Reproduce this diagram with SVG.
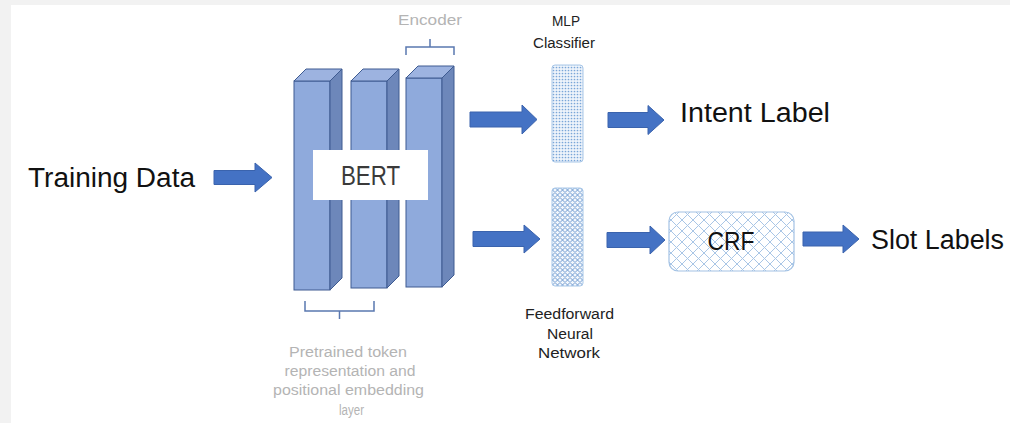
<svg xmlns="http://www.w3.org/2000/svg" width="1010" height="423" viewBox="0 0 1010 423">
  <style>
    .lbl { font-family: "Liberation Sans", Arial, sans-serif; fill: #111; }
    .big { font-size: 27px; }
    .note { font-size: 14px; fill: #222; }
    .grey { font-size: 14px; fill: #b4b4b4; }
    .front { fill: #8faadc; stroke: #3e5b91; stroke-width: 1; }
    .side { fill: #6d87ba; stroke: #3e5b91; stroke-width: 1; }
    .top { fill: #9db3e0; stroke: #3e5b91; stroke-width: 1; }
    .arrow { fill: #4472c4; stroke: #3a63ad; stroke-width: 1; }
    .brace { fill: none; stroke: #5a78b0; stroke-width: 1.5; }
  </style>
  <defs>
    <pattern id="dots" width="3" height="3" patternUnits="userSpaceOnUse">
      <rect width="3" height="3" fill="#eef4fb"/>
      <circle cx="1.5" cy="1.5" r="0.85" fill="#7aa6d8"/>
    </pattern>
    <pattern id="diamonds" width="5" height="5" patternUnits="userSpaceOnUse">
      <rect width="5" height="5" fill="#f3f7fc"/>
      <path d="M0 2.5 L2.5 0 L5 2.5 L2.5 5 Z" fill="none" stroke="#6f9bd0" stroke-width="1"/>
    </pattern>
    <pattern id="hatch" width="11" height="11" patternUnits="userSpaceOnUse">
      <rect width="11" height="11" fill="#ffffff"/>
      <path d="M0 0 L11 11 M11 0 L0 11" stroke="#a9c6e6" stroke-width="1"/>
    </pattern>
  </defs>

  <!-- page background -->
  <rect width="1010" height="423" fill="#f2f2f2"/>
  <rect x="11" y="5" width="999" height="418" fill="#ffffff"/>

  <!-- input text -->
  <g id="training-data">
    <text class="lbl big" x="28" y="187" textLength="167" lengthAdjust="spacingAndGlyphs">Training Data</text>
  </g>

  <!-- BERT encoder stack -->
  <g id="bert">
    <g id="layer-embed">
      <rect class="front" x="294" y="81" width="36" height="209"/>
      <polygon class="top" points="294,81 306,69 342,69 330,81"/>
      <polygon class="side" points="330,81 342,69 342,278 330,290"/>
    </g>
    <g id="layer-2">
      <rect class="front" x="351" y="81" width="36" height="207"/>
      <polygon class="top" points="351,81 363,69 399,69 387,81"/>
      <polygon class="side" points="387,81 399,69 399,276 387,288"/>
    </g>
    <g id="layer-encoder">
      <rect class="front" x="406" y="78" width="36" height="209"/>
      <polygon class="top" points="406,78 418,66 454,66 442,78"/>
      <polygon class="side" points="442,78 454,66 454,275 442,287"/>
    </g>
    <rect x="313" y="150" width="115" height="50" fill="#ffffff"/>
    <text class="lbl" x="370.5" y="185" font-size="28" fill="#3a3a3a" text-anchor="middle" textLength="59" lengthAdjust="spacingAndGlyphs" style="fill:#3a3a3a">BERT</text>
  </g>

  <!-- encoder brace and label -->
  <g id="encoder-label">
    <path class="brace" d="M406 55 L406 47 L454 47 L454 55 M430 47 L430 39"/>
    <text class="lbl grey" x="430" y="25" text-anchor="middle" textLength="64" lengthAdjust="spacingAndGlyphs" font-size="13">Encoder</text>
  </g>

  <!-- embedding brace and label -->
  <g id="embedding-label">
    <path class="brace" d="M305 301 L305 311 L374 311 L374 301 M339.5 311 L339.5 319"/>
    <text class="lbl grey" x="348" y="357" text-anchor="middle" textLength="118" lengthAdjust="spacingAndGlyphs">Pretrained token</text>
    <text class="lbl grey" x="350" y="376" text-anchor="middle" textLength="131" lengthAdjust="spacingAndGlyphs">representation and</text>
    <text class="lbl grey" x="348.5" y="395" text-anchor="middle" textLength="151" lengthAdjust="spacingAndGlyphs">positional embedding</text>
    <text class="lbl grey" x="351.5" y="415" text-anchor="middle" textLength="25" lengthAdjust="spacingAndGlyphs">layer</text>
  </g>

  <!-- MLP classifier -->
  <g id="mlp">
    <rect x="552" y="65" width="31" height="97" rx="3" fill="url(#dots)" stroke="#a8c7e8" stroke-width="1"/>
    <text class="lbl note" x="566" y="26" text-anchor="middle" textLength="28" lengthAdjust="spacingAndGlyphs">MLP</text>
    <text class="lbl note" x="564" y="48" text-anchor="middle" textLength="62" lengthAdjust="spacingAndGlyphs">Classifier</text>
  </g>

  <!-- feedforward network -->
  <g id="ffn">
    <rect x="552" y="188" width="31" height="98" rx="3" fill="url(#diamonds)" stroke="#a8c7e8" stroke-width="1"/>
    <text class="lbl note" x="569.5" y="319" text-anchor="middle" textLength="89" lengthAdjust="spacingAndGlyphs">Feedforward</text>
    <text class="lbl note" x="570" y="339" text-anchor="middle" textLength="46" lengthAdjust="spacingAndGlyphs">Neural</text>
    <text class="lbl note" x="569" y="358" text-anchor="middle" textLength="62" lengthAdjust="spacingAndGlyphs">Network</text>
  </g>

  <!-- CRF -->
  <g id="crf">
    <rect x="669" y="212" width="125" height="59" rx="9" fill="url(#hatch)" stroke="#a3c2e4" stroke-width="1.2"/>
    <text class="lbl" x="731" y="250" font-size="25" text-anchor="middle" textLength="47" lengthAdjust="spacingAndGlyphs">CRF</text>
  </g>

  <!-- outputs -->
  <g id="intent-label">
    <text class="lbl big" x="680" y="122" textLength="150" lengthAdjust="spacingAndGlyphs">Intent Label</text>
  </g>
  <g id="slot-labels">
    <text class="lbl big" x="871" y="249" textLength="133" lengthAdjust="spacingAndGlyphs">Slot Labels</text>
  </g>

  <!-- block arrows -->
  <g id="connectors">
    <path class="arrow" d="M214 170.5 H255 V163 L272 177.5 L255 192 V184.5 H214 Z"/>
    <path class="arrow" d="M470 112 H522 V105 L537 119.5 L522 134 V127 H470 Z"/>
    <path class="arrow" d="M608 112.5 H648 V105.5 L664 120 L648 134.5 V127.5 H608 Z"/>
    <path class="arrow" d="M473 231.5 H524 V225 L540 239 L524 253 V246.5 H473 Z"/>
    <path class="arrow" d="M607 232.5 H650 V226 L665 240 L650 254 V247.5 H607 Z"/>
    <path class="arrow" d="M803 232 H843 V225 L859 239 L843 253 V246 H803 Z"/>
  </g>
</svg>
